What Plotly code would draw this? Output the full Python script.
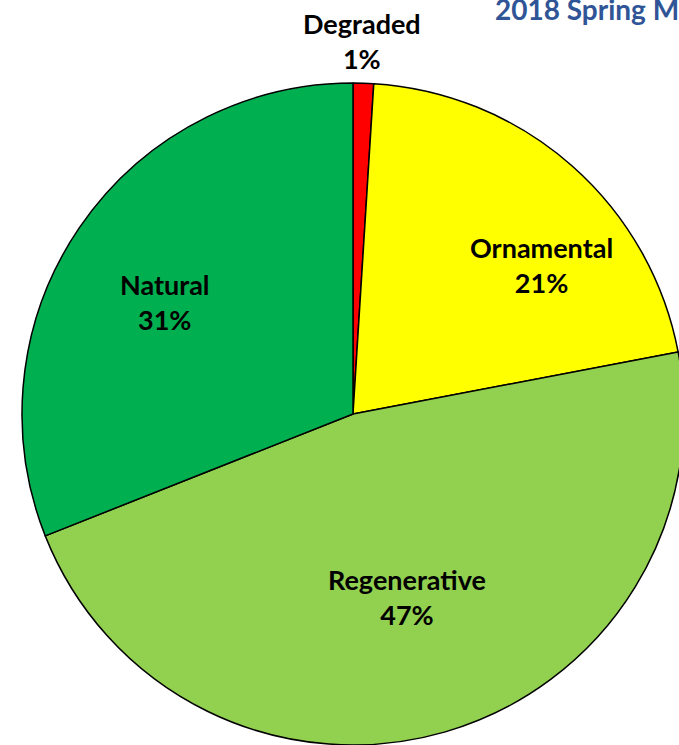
import math
import plotly.graph_objects as go

categories = ["Degraded", "Ornamental", "Regenerative", "Natural"]
values = [1, 21, 47, 31]
colors = ["#FF0000", "#FFFF00", "#92D050", "#00B050"]
title_text = "2018 Spring Monitoring"

# label placement style (angle nudge in degrees, radius as fraction of pie radius)
label_angle_nudge = [-0.4, 10.2, -0.2, -3.5]
label_radius_frac = [1.127, 0.725, 0.577, 0.66]

W, H = 706, 800
CX, CY, R = 353, 414, 331  # pie centre / radius in figure pixels

fig = go.Figure(
    go.Pie(
        labels=categories,
        values=values,
        sort=False,
        direction="clockwise",
        rotation=0,
        marker=dict(colors=colors, line=dict(color="#000000", width=1.5)),
        textinfo="none",
        hoverinfo="label+percent",
        showlegend=False,
        domain=dict(x=[(CX - R) / W, (CX + R) / W], y=[1 - (CY + R) / H, 1 - (CY - R) / H]),
    )
)

total = sum(values)
cum = 0
for cat, v, nudge, frac in zip(categories, values, label_angle_nudge, label_radius_frac):
    mid = (cum + v / 2) / total * 360 + nudge
    cum += v
    d = frac * R
    px = CX + d * math.sin(math.radians(mid))
    py = CY - d * math.cos(math.radians(mid))
    fig.add_annotation(
        text=f"{cat}<br>{round(v / total * 100)}%",
        xref="paper", yref="paper",
        x=px / W, y=1 - py / H,
        xanchor="center", yanchor="middle",
        showarrow=False,
        font=dict(family="Lato", size=27, color="#000000", weight="bold"),
    )

fig.add_annotation(
    text=title_text,
    xref="paper", yref="paper",
    x=493 / W, y=1 - 9 / H,
    xanchor="left", yanchor="middle",
    showarrow=False,
    font=dict(family="Lato", size=28, color="#2F5597", weight="bold"),
)

fig.update_layout(
    width=W, height=H,
    margin=dict(l=0, r=0, t=0, b=0),
    paper_bgcolor="#FFFFFF",
    plot_bgcolor="#FFFFFF",
)

fig.write_html(
    "out.html",
    config={"displayModeBar": False},
    post_script="document.body.style.margin='0';document.body.style.overflow='hidden';",
)
